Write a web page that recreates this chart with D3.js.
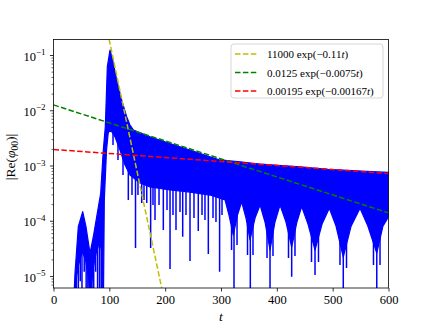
<!DOCTYPE html>
<html>
<head>
<meta charset="utf-8">
<script src="https://cdn.jsdelivr.net/npm/d3@7"></script>
<style>
  body { margin: 0; background: #fff; }
  svg { display: block; font-family: "Liberation Serif", "DejaVu Serif", serif; }
</style>
</head>
<body>
<div class="chart"></div>
<script>
// blue signal: upper edge of the oscillation band
const upperT = [36, 38.5, 44.4, 52.3, 58.2, 65.4, 71.3, 78.4, 84.5, 89.2, 92.8, 96.4, 101.2, 106, 113.2, 122.1, 131.1, 137, 143, 172.8, 208.7, 244.5, 280.3, 298.2, 334, 370, 441.5, 492, 552, 600];
const upperV = [3e-6, 1.12e-5, 7.8e-5, 1.46e-4, 7.8e-5, 2.58e-5, 5.14e-5, 1.36e-4, 3.14e-4, 1.91e-3, 5.04e-3, 0.0614, 0.123, 0.0812, 0.0353, 0.0153, 0.00764, 0.0054, 0.0044, 0.0033, 0.0025, 0.00191, 0.00144, 0.00126, 0.00117, 0.00106, 9.5e-4, 8.5e-4, 7.95e-4, 7.5e-4];

// lower edge of the solid band
const lowerT = [36, 40, 45, 52, 58, 63, 66, 70, 76, 82, 86, 89, 91, 95, 98, 101.2, 106, 110.1, 119.1, 128.1, 137, 154.9, 172.8, 208.7, 244.5, 280.3, 307.2, 314.3, 322, 329.5, 337, 344.8, 352, 361, 370, 378.8, 387.8, 396.7, 405.7, 416.4, 426.6, 436, 444.5, 455.8, 468.4, 481, 494, 506, 519, 533, 549, 563, 579, 590, 600];
const lowerV = [1e-6, 8e-6, 1.6e-5, 2.8e-5, 1.8e-5, 9e-6, 1e-6, 1.2e-5, 2.5e-5, 4e-5, 3e-5, 1e-6, 2.38e-4, 1.91e-3, 3.87e-3, 4.39e-3, 3.9e-3, 3.3e-3, 1.91e-3, 1.02e-3, 6.73e-4, 4.82e-4, 4.08e-4, 3.6e-4, 3.31e-4, 2.92e-4, 2.38e-4, 1.27e-4, 5.5e-5, 1.27e-4, 2.21e-4, 1.12e-4, 4.5e-5, 1.12e-4, 1.93e-4, 9.5e-5, 2.96e-5, 9.5e-5, 1.93e-4, 9.5e-5, 3.35e-5, 9.5e-5, 1.8e-4, 8.7e-5, 2.96e-5, 8.7e-5, 1.68e-4, 8.0e-5, 2.21e-5, 8.0e-5, 1.68e-4, 8.0e-5, 2.61e-5, 8.0e-5, 1.18e-4];

// deep dips of the oscillation (t, bottom value)
const spikeT = [41, 44.5, 48, 51, 55, 58.5, 61.5, 68.5, 72, 75.5, 79, 82.5, 85.5, 106.6, 115.5, 124.5, 134, 140.6, 146.9, 151.3, 158, 162.1, 167, 174, 178.2, 181.8, 189, 196.7, 203.3, 208.7, 214, 219.4, 226.6, 231.4, 237.3, 244.5, 251.6, 259.3, 266, 271.3, 277.3, 285.7, 291, 297.5, 301.8, 318.9, 323.3, 328.7, 347.5, 352.5, 357.3, 382.4, 387.8, 393.1, 420.9, 426.6, 432.5, 462.1, 468.4, 474.6, 513.1, 519, 524.8, 573.1, 579, 584.8];
const spikeV = [1e-6, 1e-6, 8e-6, 1e-6, 1.2e-5, 1e-6, 1e-6, 1e-6, 1e-6, 1.2e-5, 1e-6, 1e-6, 1e-6, 2.35e-3, 1.26e-3, 6.7e-4, 2.38e-4, 2.92e-4, 3.21e-5, 2.92e-4, 2.1e-4, 2.38e-4, 2.1e-4, 3.21e-5, 1.93e-4, 1.03e-4, 1.93e-4, 6.8e-5, 1.57e-4, 1.34e-5, 1.27e-4, 6.8e-5, 1.44e-4, 5.14e-5, 1.27e-4, 1.87e-5, 1.12e-4, 6.5e-5, 1.27e-4, 1.03e-4, 2.5e-5, 1.12e-4, 9.5e-5, 1.2e-5, 1.27e-4, 2.96e-5, 1e-6, 3.64e-5, 2.4e-5, 1e-6, 2.4e-5, 2.12e-5, 1e-6, 2.3e-5, 2.12e-5, 9.7e-6, 2.3e-5, 1.79e-5, 1.04e-5, 1.79e-5, 1.58e-5, 1e-6, 1.4e-5, 1.58e-5, 1e-6, 1.58e-5];

// exponential fits  A exp(-k t)
const fitA = [11000, 0.0125, 0.00195];
const fitK = [0.11, 0.0075, 0.00167];
const fitAText = ["11000", "0.0125", "0.00195"];
const fitKText = ["0.11", "0.0075", "0.00167"];
const fitColors = ["#bfbf00", "#008000", "#ff0000"];

const xTicks = [0, 100, 200, 300, 400, 500, 600];
const yTickExp = [-5, -4, -3, -2, -1];

const W = 432, H = 324;
const mLeft = 53.5, mRight = 388.5, mTop = 39.5, mBottom = 288;

const svg = d3.select(".chart").append("svg").attr("width", W).attr("height", H);

const x = d3.scaleLinear().domain([0, 600]).range([mLeft, mRight]);
const y = d3.scaleLog().domain([6.07e-6, 0.1908]).range([mBottom, mTop]);

svg.append("clipPath").attr("id", "clip")
  .append("rect").attr("x", mLeft).attr("y", mTop)
  .attr("width", mRight - mLeft).attr("height", mBottom - mTop);

const plot = svg.append("g").attr("clip-path", "url(#clip)");

// band of the signal
const band = upperT.map((t, i) => [t, upperV[i]])
  .concat(lowerT.map((t, i) => [t, lowerV[i]]).reverse());
const line = d3.line().x((d) => x(d[0])).y((d) => y(d[1]));
plot.append("path")
  .attr("d", line(band) + "Z")
  .attr("fill", "#0000ff")
  .attr("stroke", "#0000ff")
  .attr("stroke-width", 1.2)
  .attr("stroke-linejoin", "round");

// dips hanging under the band
const lowerAt = d3.scaleLinear().domain(lowerT).range(lowerV.map(Math.log10));
plot.selectAll(".spike")
  .data(spikeT)
  .enter()
  .append("line")
  .attr("class", "spike")
  .attr("x1", (d) => x(d))
  .attr("x2", (d) => x(d))
  .attr("y1", (d) => Math.min(y(Math.pow(10, lowerAt(d))), mBottom) - 2)
  .attr("y2", (d, i) => y(spikeV[i]))
  .attr("stroke", "#0000ff")
  .attr("stroke-width", 1.5);

// fit lines (straight on a log axis, two ends are enough)
fitA.forEach((a, i) => {
  const pts = [0, 600].map((t) => [t, a * Math.exp(-fitK[i] * t)]);
  plot.append("path")
    .attr("d", line(pts))
    .attr("fill", "none")
    .attr("stroke", fitColors[i])
    .attr("stroke-width", 1.5)
    .attr("stroke-dasharray", "5.5,2.4");
});

// axes
const xAxis = d3.axisBottom(x).tickValues(xTicks).tickSize(3.5).tickPadding(4);
svg.append("g")
  .attr("transform", `translate(0,${mBottom})`)
  .call(xAxis)
  .call((g) => g.select(".domain").remove())
  .call((g) => g.selectAll("line").attr("stroke", "#000").attr("stroke-width", 0.8))
  .call((g) => g.selectAll("text")
    .attr("font-family", "Liberation Serif").attr("font-size", 12.5).attr("fill", "#000"));

const minors = [];
for (let e = -6; e <= -1; e++) {
  for (let k = 2; k <= 9; k++) {
    const v = k * Math.pow(10, e);
    if (v > y.domain()[0] && v < y.domain()[1]) minors.push(v);
  }
}
svg.append("g")
  .attr("transform", `translate(${mLeft},0)`)
  .call(d3.axisLeft(y).tickValues(minors).tickSize(2).tickFormat(() => ""))
  .call((g) => g.select(".domain").remove())
  .call((g) => g.selectAll("line").attr("stroke", "#000").attr("stroke-width", 0.6));

const yAxisG = svg.append("g")
  .attr("transform", `translate(${mLeft},0)`)
  .call(d3.axisLeft(y).tickValues(yTickExp.map((e) => Math.pow(10, e))).tickSize(3.5).tickFormat(() => ""))
  .call((g) => g.select(".domain").remove())
  .call((g) => g.selectAll("line").attr("stroke", "#000").attr("stroke-width", 0.8));

yAxisG.selectAll(".tick").each(function (d, i) {
  const t = d3.select(this).select("text")
    .attr("x", -8).attr("dy", null).attr("y", 5)
    .attr("text-anchor", "end")
    .attr("font-family", "Liberation Serif").attr("fill", "#000");
  t.append("tspan").attr("font-size", 12.5).text("10");
  t.append("tspan").attr("font-size", 9).attr("dy", -5.5)
    .text("\u2212" + String(-yTickExp[i]));
});

// frame
svg.append("rect")
  .attr("x", mLeft).attr("y", mTop)
  .attr("width", mRight - mLeft).attr("height", mBottom - mTop)
  .attr("fill", "none").attr("stroke", "#000").attr("stroke-width", 0.8);

// axis labels
svg.append("text")
  .attr("x", (mLeft + mRight) / 2).attr("y", 321)
  .attr("text-anchor", "middle")
  .attr("font-size", 13.5).attr("font-style", "italic")
  .text("t");

const yl = svg.append("text")
  .attr("transform", "translate(15,157) rotate(-90)")
  .attr("text-anchor", "middle")
  .attr("font-size", 13.5);
yl.append("tspan").text("|Re(");
yl.append("tspan").attr("font-style", "italic").text("\u03c6");
yl.append("tspan").attr("font-size", 9.5).attr("dy", 3).text("00");
yl.append("tspan").attr("dy", -3).text(")|");

// legend
const lg = svg.append("g").attr("transform", "translate(231,44)");
lg.append("rect")
  .attr("width", 152).attr("height", 54).attr("rx", 3)
  .attr("fill", "#fff").attr("fill-opacity", 0.8)
  .attr("stroke", "#ccc").attr("stroke-width", 0.8);

fitA.forEach((a, i) => {
  const cy = 10 + i * 18.5;
  lg.append("line")
    .attr("x1", 4).attr("x2", 26).attr("y1", cy).attr("y2", cy)
    .attr("stroke", fitColors[i]).attr("stroke-width", 1.5)
    .attr("stroke-dasharray", "5.5,2.4");
  const tx = lg.append("text").attr("x", 36).attr("y", cy + 4).attr("font-size", 11);
  tx.append("tspan").text(fitAText[i] + " exp(\u2212" + fitKText[i]);
  tx.append("tspan").attr("font-style", "italic").text("t");
  tx.append("tspan").text(")");
});
</script>
</body>
</html>
